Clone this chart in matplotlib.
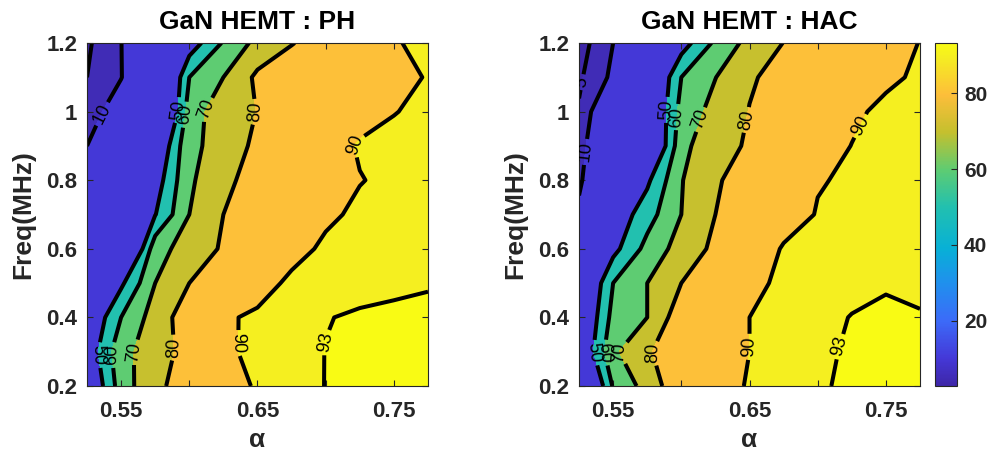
import numpy as np
import matplotlib
matplotlib.use("Agg")
import matplotlib.pyplot as plt
from matplotlib.colors import LinearSegmentedColormap, Normalize
from matplotlib.cm import ScalarMappable
from matplotlib import font_manager

plt.rcParams["font.family"] = ["Liberation Sans", "DejaVu Sans"]

# grid (alpha on x, frequency on y)
alpha = [0.525, 0.55, 0.575, 0.6, 0.625, 0.65, 0.675, 0.7, 0.725, 0.75, 0.775]
freq = [0.2, 0.3, 0.4, 0.5, 0.6, 0.7, 0.8, 0.9, 1.0, 1.1, 1.2]

# efficiency maps, one row per frequency (bottom to top)
ph_eff = [
    [36.7, 65.0, 78.0, 84.2, 87.5, 90.6, 92.0, 93.05, 93.15, 93.25, 93.3],
    [41.9, 67.0, 75.0, 84.0, 89.0, 91.3, 92.3, 93.03, 93.15, 93.2, 93.3],
    [38.6, 60.0, 74.6, 85.4, 89.2, 91.0, 92.0, 92.95, 93.15, 93.2, 93.3],
    [20.0, 48.0, 70.0, 80.0, 84.0, 87.5, 91.2, 92.2, 92.6, 92.8, 92.9],
    [18.0, 22.5, 66.3, 74.2, 81.2, 84.0, 88.0, 91.0, 91.8, 92.3, 92.6],
    [16.0, 32.0, 49.6, 70.0, 80.0, 83.0, 86.0, 89.0, 91.0, 91.8, 92.3],
    [14.0, 28.0, 44.3, 68.6, 76.5, 85.9, 87.0, 88.5, 89.8, 91.0, 92.0],
    [10.0, 22.0, 37.3, 68.2, 72.9, 82.8, 85.0, 87.5, 90.5, 91.5, 92.2],
    [5.8, 15.0, 20.0, 65.0, 76.0, 80.2, 82.0, 85.0, 88.0, 89.8, 91.2],
    [5.0, 9.7, 22.3, 60.0, 70.0, 82.0, 84.0, 85.5, 87.0, 88.5, 90.3],
    [4.2, 9.8, 26.0, 44.0, 61.0, 73.0, 79.7, 83.0, 86.0, 89.5, 91.5],
]
hac_eff = [
    [23.3, 61.0, 74.1, 87.5, 88.5, 90.3, 91.5, 92.8, 93.3, 93.3, 93.3],
    [37.0, 68.0, 79.5, 82.9, 86.5, 90.0, 92.0, 92.7, 93.2, 93.3, 93.2],
    [35.0, 63.3, 70.0, 86.2, 88.5, 90.0, 91.8, 92.6, 93.05, 93.2, 93.1],
    [31.7, 60.0, 70.0, 80.0, 84.5, 88.0, 91.5, 92.2, 92.6, 92.9, 92.7],
    [13.0, 46.7, 63.3, 74.2, 82.1, 86.0, 90.5, 91.3, 91.8, 92.2, 92.5],
    [11.0, 42.2, 55.8, 70.0, 80.0, 84.0, 87.5, 90.3, 91.2, 91.8, 92.3],
    [9.2, 17.5, 48.0, 69.5, 79.0, 84.0, 88.0, 89.7, 90.6, 91.5, 92.2],
    [7.5, 19.6, 30.0, 67.0, 77.2, 80.9, 84.0, 87.5, 90.1, 91.5, 92.0],
    [5.5, 18.2, 32.7, 63.6, 73.5, 80.3, 83.0, 85.5, 89.0, 91.2, 91.8],
    [4.2, 11.2, 31.7, 60.0, 69.8, 79.0, 83.0, 85.0, 87.0, 89.0, 90.8],
    [2.7, 10.0, 28.0, 45.0, 62.0, 73.3, 80.2, 83.0, 86.0, 88.5, 90.1],
]
levels = [5, 10, 50, 60, 70, 80, 90, 93]
cbar_ticks = [20, 40, 60, 80]

# label spots (alpha, freq) for each panel
ph_labels = [(10, (0.533, 0.999)), (50, (0.589, 1.005)), (60, (0.5935, 0.993)),
             (70, (0.616, 0.999)), (80, (0.649, 0.999)), (90, (0.719, 0.911)),
             (50, (0.533, 0.29)), (60, (0.5418, 0.29)), (70, (0.5563, 0.299)),
             (80, (0.5855, 0.311)), (90, (0.6343, 0.325)), (93, (0.6985, 0.328))]
hac_labels = [(5, (0.5272, 1.086)), (10, (0.5308, 0.882)), (50, (0.5891, 1.005)),
              (60, (0.5972, 0.984)), (70, (0.6147, 0.976)), (80, (0.6474, 0.976)),
              (90, (0.7298, 0.961)), (50, (0.5352, 0.296)), (60, (0.5425, 0.296)),
              (70, (0.5534, 0.296)), (80, (0.5789, 0.296)), (90, (0.6511, 0.314)),
              (93, (0.7116, 0.32))]

# parula-like colormap
parula = LinearSegmentedColormap.from_list("parula", [
    (0.00, (0.242, 0.150, 0.660)),
    (0.08, (0.268, 0.220, 0.845)),
    (0.19, (0.235, 0.420, 0.975)),
    (0.30, (0.125, 0.565, 0.930)),
    (0.40, (0.030, 0.690, 0.840)),
    (0.52, (0.130, 0.752, 0.690)),
    (0.63, (0.365, 0.800, 0.450)),
    (0.74, (0.770, 0.752, 0.180)),
    (0.85, (0.992, 0.745, 0.228)),
    (0.96, (0.960, 0.932, 0.130)),
    (1.00, (0.976, 0.984, 0.080)),
])
norm = Normalize(vmin=2.7, vmax=93.3)
fill_levels = [0] + levels + [100]
fill_colors = [parula(norm(max(lv, norm.vmin))) for lv in fill_levels[:-1]]

names = {f.name for f in font_manager.fontManager.ttflist}
tick_font = "Liberation Sans Narrow" if "Liberation Sans Narrow" in names else "Liberation Sans"
tick_size = 17.5 if tick_font == "Liberation Sans Narrow" else 16
dark = "#262626"

fig = plt.figure(figsize=(9.93, 4.59), dpi=100)
ax1 = fig.add_axes([0.0876, 0.159, 0.3434, 0.7473])
ax2 = fig.add_axes([0.5831, 0.159, 0.3434, 0.7473])
cax = fig.add_axes([0.9416, 0.159, 0.0222, 0.7473])

panels = [(ax1, ph_eff, "GaN HEMT : PH", ph_labels),
          (ax2, hac_eff, "GaN HEMT : HAC", hac_labels)]
for ax, z, title, marks in panels:
    z = np.array(z)
    ax.contourf(alpha, freq, z, levels=fill_levels, colors=fill_colors)
    for lev in levels:
        if z.min() >= lev or z.max() <= lev:
            continue
        cs = ax.contour(alpha, freq, z, levels=[lev], colors="k", linewidths=2.9)
        spots = [pos for lv, pos in marks if lv == lev]
        if spots:
            cs.clabel(manual=spots, inline=True, inline_spacing=3,
                      fontsize=13, fmt="%g")
    ax.set_xlim(0.525, 0.775)
    ax.set_ylim(0.2, 1.2)
    ax.set_xticks([0.55, 0.6, 0.65, 0.7, 0.75])
    ax.set_xticklabels(["0.55", "", "0.65", "", "0.75"])
    ax.set_yticks([0.2, 0.4, 0.6, 0.8, 1.0, 1.2])
    ax.set_yticklabels(["0.2", "0.4", "0.6", "0.8", "1", "1.2"])
    ax.tick_params(direction="in", length=4, width=0.8, colors=dark,
                   top=True, right=True)
    ax.tick_params(axis="x", pad=11)
    ax.tick_params(axis="y", pad=7)
    for lab in ax.get_xticklabels() + ax.get_yticklabels():
        lab.set_fontfamily(tick_font)
        lab.set_fontweight("bold")
        lab.set_fontsize(tick_size)
    for sp in ax.spines.values():
        sp.set_color(dark)
        sp.set_linewidth(0.8)
    ax.set_title(title, fontsize=19, fontweight="bold", pad=10)
    ax.set_xlabel("α", fontsize=19, fontweight="bold", color=dark, labelpad=4)
    ax.set_ylabel("Freq(MHz)", fontsize=19, fontweight="bold", color=dark, labelpad=8)

cb = fig.colorbar(ScalarMappable(norm=norm, cmap=parula), cax=cax, ticks=cbar_ticks)
cb.outline.set_edgecolor(dark)
cb.outline.set_linewidth(0.8)
cb.ax.tick_params(direction="in", length=4, width=0.8, colors=dark, pad=5)
for lab in cb.ax.get_yticklabels():
    lab.set_fontweight("bold")
    lab.set_fontsize(15)

fig.savefig("out.png", dpi=100)
